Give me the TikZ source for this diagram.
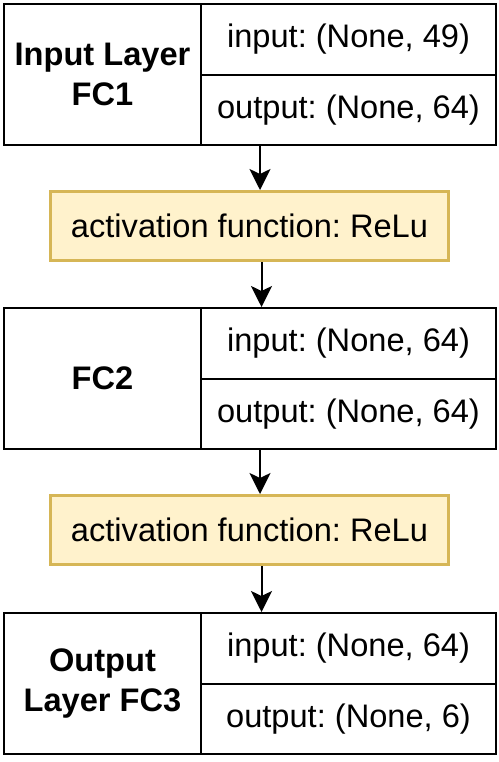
\documentclass[tikz,border=0pt]{standalone}
\usepackage{fontspec}
\setmainfont{Liberation Sans}
\usepackage{tikz}
\usetikzlibrary{arrows.meta}
\frenchspacing

\definecolor{reluFill}{HTML}{FFF2CC}
\definecolor{reluDraw}{HTML}{D6B656}

\tikzset{
	cell/.style={draw, line width=1bp, inner sep=0pt, anchor=north west,
		font=\fontsize{16.3bp}{19.6bp}\selectfont},
	title/.style={cell, minimum width=98.5bp, minimum height=70.5bp, align=center,
		font=\fontsize{16.3bp}{19.6bp}\selectfont\bfseries},
	io/.style={cell, minimum width=147.5bp, minimum height=35.25bp},
	relu/.style={cell, draw=reluDraw, fill=reluFill, line width=1.5bp,
		minimum width=199bp, minimum height=34.5bp},
	flow/.style={line width=1bp, -{Stealth[length=10.5bp, width=10.5bp, inset=2.5bp]}}
}

\begin{document}
	\begin{tikzpicture}[x=0.5bp, y=-0.5bp]
		\useasboundingbox (0,0) rectangle (499,762);
		
		% first layer
		\node[title] (fcone) at (3,3) {Input Layer\\FC1};
		\node[io] (fconein) at (200,3) {input: (None, 49)};
		\node[io] (fconeout) at (200,73.5) {output: (None, 64)};
		
		\node[relu] (actone) at (49,190) {activation function: ReLu};
		
		% second layer
		\node[title] (fctwo) at (3,307) {FC2};
		\node[io] (fctwoin) at (200,307) {input: (None, 64)};
		\node[io] (fctwoout) at (200,377.5) {output: (None, 64)};
		
		\node[relu] (acttwo) at (49,494) {activation function: ReLu};
		
		% output layer
		\node[title] (fcthree) at (3,612) {Output\\Layer FC3};
		\node[io] (fcthreein) at (200,612) {input: (None, 64)};
		\node[io] (fcthreeout) at (200,682.5) {output: (None, 6)};
		
		% arrows
		\coordinate (outone) at ([xshift=30bp]fconeout.south west);
		\coordinate (reluone) at ([xshift=6bp]actone.south);
		\coordinate (outtwo) at ([xshift=30bp]fctwoout.south west);
		\coordinate (relutwo) at ([xshift=6bp]acttwo.south);
		\draw[flow] (outone) -- (outone |- actone.north);
		\draw[flow] (reluone) -- (reluone |- fctwoin.north);
		\draw[flow] (outtwo) -- (outtwo |- acttwo.north);
		\draw[flow] (relutwo) -- (relutwo |- fcthreein.north);
	\end{tikzpicture}
\end{document}
